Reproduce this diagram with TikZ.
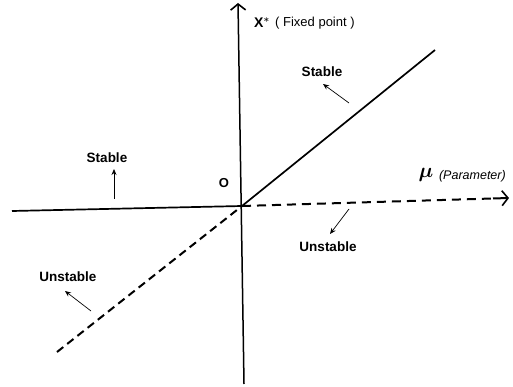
\documentclass[tikz,border=0pt]{standalone}
\usepackage{fontspec}
\setmainfont{Liberation Sans}
\usepackage{amsmath}
\usepackage{tikz}
\usetikzlibrary{positioning, arrows.meta, calc}
\tikzset{
  axis/.style={line width=1.5pt, -{Straight Barb[length=6pt, width=15pt, line width=1.6pt]}},
  branch/.style={line width=1.7pt},
  brokenbranch/.style={line width=2pt, dash pattern=on 8pt off 5pt},
  lbl/.style={font=\bfseries\fontsize{13.5}{15}\selectfont, inner sep=1pt},
  note/.style={font=\fontsize{13}{14}\selectfont, inner sep=1pt},
  hint/.style={line width=0.7pt, -{Stealth[length=6pt, width=5pt]}},
}

\begin{document}
\begin{tikzpicture}[x=1pt, y=-1pt]
		\useasboundingbox (0,0) rectangle (513,387);
		
		% axes
		\coordinate (O) at (242,206);
		\coordinate (ytop) at (238,3);
		\coordinate (ybot) at (244,384);
		\coordinate (xleft) at (12,211);
		\coordinate (xright) at (509,198);
		\draw[axis] (ybot) -- (ytop);
		
		% branches
		\coordinate (sR) at (435,50);
		\coordinate (uL) at (57,352);
		\draw[branch] (xleft) -- (O);
		\draw[branch] (O) -- (sR);
		\draw[brokenbranch] (uL) -- (O);
		\draw[brokenbranch, dash pattern=on 9pt off 6pt] (O) -- ($(xright)!14pt!(O)$);
		\draw[axis, line width=2pt] ($(xright)!16pt!(O)$) -- (xright);
		
		% axis labels
		\node[lbl, font=\bfseries\fontsize{14}{15}\selectfont] (xs) at (262,23) {X$^{\boldsymbol{*}}$};
		\node[note, right=3pt of xs] (fp) {( Fixed point )};
		\node[font=\fontsize{20}{22}\selectfont] (mu) at (426,175) {$\boldsymbol{\mu}$};
		\node[note, font=\itshape\fontsize{12.5}{14}\selectfont, right=1pt of mu, yshift=-1pt] (par) {(Parameter)};
		\node[lbl, font=\bfseries\fontsize{13}{14}\selectfont] (orig) at (224,183) {O};
		
		% stability labels
		\node[lbl] (st1) at (322,72) {Stable};
		\node[lbl] (st2) at (107,158) {Stable};
		\node[lbl] (un1) at (328,247) {Unstable};
		\node[lbl] (un2) at (68,277) {Unstable};
		
		\coordinate (a1) at (349,103);
		\coordinate (a2) at (114,199);
		\coordinate (a3) at (349,209);
		\coordinate (a4) at (91,311);
		\draw[hint] (a1) -- (323,84);
		\draw[hint] (a2) -- (114,169);
		\draw[hint] (a3) -- (330,234);
		\draw[hint] (a4) -- (65,291);
	\end{tikzpicture}
\end{document}
